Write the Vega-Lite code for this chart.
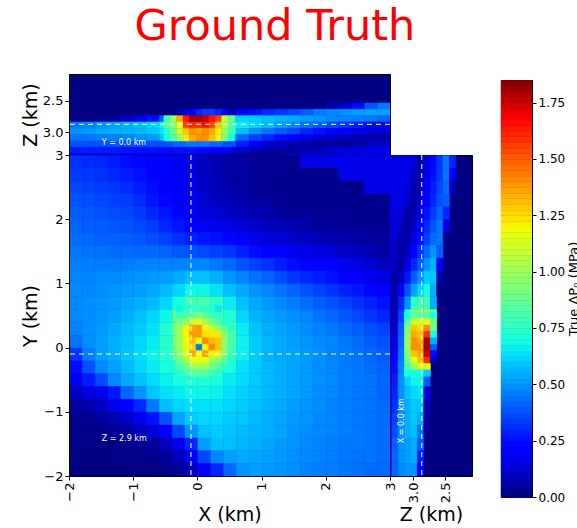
{"$schema":"https://vega.github.io/schema/vega-lite/v6.json","padding":{"left":20,"top":5,"right":0,"bottom":0},"title":{"text":"Ground Truth","color":"#ff0000","fontSize":43,"font":"DejaVu Sans","fontWeight":"normal","anchor":"middle","dx":-26,"offset":25},"config":{"view":{"fill":"#000080","stroke":"#000"},"axis":{"labelFont":"DejaVu Sans","titleFont":"DejaVu Sans","labelFontSize":13,"titleFontSize":19,"titleFontWeight":"normal","labelColor":"#000","titleColor":"#000","tickColor":"#000","domainColor":"#000","grid":false,"tickSize":4,"labelPadding":2}},"datasets":{"m":[
{"x":-1.9,"y":2.9,"v":0.32},{"x":-1.7,"y":2.9,"v":0.31},{"x":-1.5,"y":2.9,"v":0.3},{"x":-1.3,"y":2.9,"v":0.28},{"x":-1.1,"y":2.9,"v":0.25},{"x":-0.9,"y":2.9,"v":0.24},{"x":-0.7,"y":2.9,"v":0.22},{"x":-0.5,"y":2.9,"v":0.2},{"x":-0.3,"y":2.9,"v":0.18},{"x":-0.1,"y":2.9,"v":0.15},{"x":0.1,"y":2.9,"v":0.1},{"x":0.3,"y":2.9,"v":0.08},{"x":0.5,"y":2.9,"v":0.06},{"x":0.7,"y":2.9,"v":0.05},{"x":0.9,"y":2.9,"v":0.04},{"x":1.1,"y":2.9,"v":0.03},{"x":1.3,"y":2.9,"v":0.03},{"x":1.5,"y":2.9,"v":0.03},{"x":1.7,"y":2.9,"v":0.17},{"x":1.9,"y":2.9,"v":0.17},{"x":2.1,"y":2.9,"v":0.17},{"x":2.3,"y":2.9,"v":0.17},{"x":2.5,"y":2.9,"v":0.17},{"x":2.7,"y":2.9,"v":0.17},{"x":2.9,"y":2.9,"v":0.17},
{"x":-1.9,"y":2.7,"v":0.34},{"x":-1.7,"y":2.7,"v":0.33},{"x":-1.5,"y":2.7,"v":0.32},{"x":-1.3,"y":2.7,"v":0.3},{"x":-1.1,"y":2.7,"v":0.28},{"x":-0.9,"y":2.7,"v":0.26},{"x":-0.7,"y":2.7,"v":0.23},{"x":-0.5,"y":2.7,"v":0.21},{"x":-0.3,"y":2.7,"v":0.19},{"x":-0.1,"y":2.7,"v":0.15},{"x":0.1,"y":2.7,"v":0.11},{"x":0.3,"y":2.7,"v":0.08},{"x":0.5,"y":2.7,"v":0.06},{"x":0.7,"y":2.7,"v":0.05},{"x":0.9,"y":2.7,"v":0.04},{"x":1.1,"y":2.7,"v":0.03},{"x":1.3,"y":2.7,"v":0.03},{"x":1.5,"y":2.7,"v":0.02},{"x":1.7,"y":2.7,"v":0.02},{"x":1.9,"y":2.7,"v":0.02},{"x":2.1,"y":2.7,"v":0.02},{"x":2.3,"y":2.7,"v":0.17},{"x":2.5,"y":2.7,"v":0.17},{"x":2.7,"y":2.7,"v":0.17},{"x":2.9,"y":2.7,"v":0.17},
{"x":-1.9,"y":2.5,"v":0.36},{"x":-1.7,"y":2.5,"v":0.35},{"x":-1.5,"y":2.5,"v":0.34},{"x":-1.3,"y":2.5,"v":0.33},{"x":-1.1,"y":2.5,"v":0.31},{"x":-0.9,"y":2.5,"v":0.28},{"x":-0.7,"y":2.5,"v":0.25},{"x":-0.5,"y":2.5,"v":0.22},{"x":-0.3,"y":2.5,"v":0.2},{"x":-0.1,"y":2.5,"v":0.16},{"x":0.1,"y":2.5,"v":0.12},{"x":0.3,"y":2.5,"v":0.09},{"x":0.5,"y":2.5,"v":0.07},{"x":0.7,"y":2.5,"v":0.05},{"x":0.9,"y":2.5,"v":0.04},{"x":1.1,"y":2.5,"v":0.03},{"x":1.3,"y":2.5,"v":0.02},{"x":1.5,"y":2.5,"v":0.02},{"x":1.7,"y":2.5,"v":0.02},{"x":1.9,"y":2.5,"v":0.02},{"x":2.1,"y":2.5,"v":0.02},{"x":2.3,"y":2.5,"v":0.02},{"x":2.5,"y":2.5,"v":0.02},{"x":2.7,"y":2.5,"v":0.17},{"x":2.9,"y":2.5,"v":0.17},
{"x":-1.9,"y":2.3,"v":0.38},{"x":-1.7,"y":2.3,"v":0.37},{"x":-1.5,"y":2.3,"v":0.36},{"x":-1.3,"y":2.3,"v":0.35},{"x":-1.1,"y":2.3,"v":0.34},{"x":-0.9,"y":2.3,"v":0.31},{"x":-0.7,"y":2.3,"v":0.27},{"x":-0.5,"y":2.3,"v":0.24},{"x":-0.3,"y":2.3,"v":0.21},{"x":-0.1,"y":2.3,"v":0.17},{"x":0.1,"y":2.3,"v":0.13},{"x":0.3,"y":2.3,"v":0.11},{"x":0.5,"y":2.3,"v":0.09},{"x":0.7,"y":2.3,"v":0.07},{"x":0.9,"y":2.3,"v":0.05},{"x":1.1,"y":2.3,"v":0.04},{"x":1.3,"y":2.3,"v":0.03},{"x":1.5,"y":2.3,"v":0.02},{"x":1.7,"y":2.3,"v":0.02},{"x":1.9,"y":2.3,"v":0.02},{"x":2.1,"y":2.3,"v":0.02},{"x":2.3,"y":2.3,"v":0.02},{"x":2.5,"y":2.3,"v":0.02},{"x":2.7,"y":2.3,"v":0.02},{"x":2.9,"y":2.3,"v":0.03},
{"x":-1.9,"y":2.1,"v":0.4},{"x":-1.7,"y":2.1,"v":0.39},{"x":-1.5,"y":2.1,"v":0.38},{"x":-1.3,"y":2.1,"v":0.37},{"x":-1.1,"y":2.1,"v":0.36},{"x":-0.9,"y":2.1,"v":0.34},{"x":-0.7,"y":2.1,"v":0.3},{"x":-0.5,"y":2.1,"v":0.27},{"x":-0.3,"y":2.1,"v":0.24},{"x":-0.1,"y":2.1,"v":0.19},{"x":0.1,"y":2.1,"v":0.15},{"x":0.3,"y":2.1,"v":0.13},{"x":0.5,"y":2.1,"v":0.12},{"x":0.7,"y":2.1,"v":0.1},{"x":0.9,"y":2.1,"v":0.08},{"x":1.1,"y":2.1,"v":0.07},{"x":1.3,"y":2.1,"v":0.05},{"x":1.5,"y":2.1,"v":0.04},{"x":1.7,"y":2.1,"v":0.04},{"x":1.9,"y":2.1,"v":0.03},{"x":2.1,"y":2.1,"v":0.03},{"x":2.3,"y":2.1,"v":0.03},{"x":2.5,"y":2.1,"v":0.02},{"x":2.7,"y":2.1,"v":0.02},{"x":2.9,"y":2.1,"v":0.02},
{"x":-1.9,"y":1.9,"v":0.41},{"x":-1.7,"y":1.9,"v":0.4},{"x":-1.5,"y":1.9,"v":0.4},{"x":-1.3,"y":1.9,"v":0.39},{"x":-1.1,"y":1.9,"v":0.38},{"x":-0.9,"y":1.9,"v":0.36},{"x":-0.7,"y":1.9,"v":0.34},{"x":-0.5,"y":1.9,"v":0.3},{"x":-0.3,"y":1.9,"v":0.27},{"x":-0.1,"y":1.9,"v":0.23},{"x":0.1,"y":1.9,"v":0.19},{"x":0.3,"y":1.9,"v":0.17},{"x":0.5,"y":1.9,"v":0.16},{"x":0.7,"y":1.9,"v":0.14},{"x":0.9,"y":1.9,"v":0.12},{"x":1.1,"y":1.9,"v":0.1},{"x":1.3,"y":1.9,"v":0.09},{"x":1.5,"y":1.9,"v":0.08},{"x":1.7,"y":1.9,"v":0.06},{"x":1.9,"y":1.9,"v":0.05},{"x":2.1,"y":1.9,"v":0.05},{"x":2.3,"y":1.9,"v":0.04},{"x":2.5,"y":1.9,"v":0.03},{"x":2.7,"y":1.9,"v":0.03},{"x":2.9,"y":1.9,"v":0.03},
{"x":-1.9,"y":1.7,"v":0.43},{"x":-1.7,"y":1.7,"v":0.42},{"x":-1.5,"y":1.7,"v":0.41},{"x":-1.3,"y":1.7,"v":0.41},{"x":-1.1,"y":1.7,"v":0.4},{"x":-0.9,"y":1.7,"v":0.39},{"x":-0.7,"y":1.7,"v":0.37},{"x":-0.5,"y":1.7,"v":0.35},{"x":-0.3,"y":1.7,"v":0.32},{"x":-0.1,"y":1.7,"v":0.29},{"x":0.1,"y":1.7,"v":0.27},{"x":0.3,"y":1.7,"v":0.26},{"x":0.5,"y":1.7,"v":0.24},{"x":0.7,"y":1.7,"v":0.2},{"x":0.9,"y":1.7,"v":0.17},{"x":1.1,"y":1.7,"v":0.15},{"x":1.3,"y":1.7,"v":0.14},{"x":1.5,"y":1.7,"v":0.12},{"x":1.7,"y":1.7,"v":0.11},{"x":1.9,"y":1.7,"v":0.09},{"x":2.1,"y":1.7,"v":0.08},{"x":2.3,"y":1.7,"v":0.07},{"x":2.5,"y":1.7,"v":0.06},{"x":2.7,"y":1.7,"v":0.05},{"x":2.9,"y":1.7,"v":0.04},
{"x":-1.9,"y":1.5,"v":0.45},{"x":-1.7,"y":1.5,"v":0.44},{"x":-1.5,"y":1.5,"v":0.44},{"x":-1.3,"y":1.5,"v":0.43},{"x":-1.1,"y":1.5,"v":0.43},{"x":-0.9,"y":1.5,"v":0.42},{"x":-0.7,"y":1.5,"v":0.42},{"x":-0.5,"y":1.5,"v":0.41},{"x":-0.3,"y":1.5,"v":0.39},{"x":-0.1,"y":1.5,"v":0.38},{"x":0.1,"y":1.5,"v":0.36},{"x":0.3,"y":1.5,"v":0.35},{"x":0.5,"y":1.5,"v":0.33},{"x":0.7,"y":1.5,"v":0.29},{"x":0.9,"y":1.5,"v":0.25},{"x":1.1,"y":1.5,"v":0.22},{"x":1.3,"y":1.5,"v":0.2},{"x":1.5,"y":1.5,"v":0.18},{"x":1.7,"y":1.5,"v":0.16},{"x":1.9,"y":1.5,"v":0.15},{"x":2.1,"y":1.5,"v":0.13},{"x":2.3,"y":1.5,"v":0.11},{"x":2.5,"y":1.5,"v":0.1},{"x":2.7,"y":1.5,"v":0.08},{"x":2.9,"y":1.5,"v":0.06},
{"x":-1.9,"y":1.3,"v":0.46},{"x":-1.7,"y":1.3,"v":0.46},{"x":-1.5,"y":1.3,"v":0.46},{"x":-1.3,"y":1.3,"v":0.46},{"x":-1.1,"y":1.3,"v":0.46},{"x":-0.9,"y":1.3,"v":0.47},{"x":-0.7,"y":1.3,"v":0.47},{"x":-0.5,"y":1.3,"v":0.47},{"x":-0.3,"y":1.3,"v":0.47},{"x":-0.1,"y":1.3,"v":0.47},{"x":0.1,"y":1.3,"v":0.47},{"x":0.3,"y":1.3,"v":0.45},{"x":0.5,"y":1.3,"v":0.42},{"x":0.7,"y":1.3,"v":0.38},{"x":0.9,"y":1.3,"v":0.35},{"x":1.1,"y":1.3,"v":0.32},{"x":1.3,"y":1.3,"v":0.28},{"x":1.5,"y":1.3,"v":0.25},{"x":1.7,"y":1.3,"v":0.23},{"x":1.9,"y":1.3,"v":0.21},{"x":2.1,"y":1.3,"v":0.2},{"x":2.3,"y":1.3,"v":0.17},{"x":2.5,"y":1.3,"v":0.15},{"x":2.7,"y":1.3,"v":0.13},{"x":2.9,"y":1.3,"v":0.1},
{"x":-1.9,"y":1.1,"v":0.47},{"x":-1.7,"y":1.1,"v":0.47},{"x":-1.5,"y":1.1,"v":0.48},{"x":-1.3,"y":1.1,"v":0.48},{"x":-1.1,"y":1.1,"v":0.49},{"x":-0.9,"y":1.1,"v":0.5},{"x":-0.7,"y":1.1,"v":0.51},{"x":-0.5,"y":1.1,"v":0.52},{"x":-0.3,"y":1.1,"v":0.54},{"x":-0.1,"y":1.1,"v":0.58},{"x":0.1,"y":1.1,"v":0.58},{"x":0.3,"y":1.1,"v":0.55},{"x":0.5,"y":1.1,"v":0.5},{"x":0.7,"y":1.1,"v":0.47},{"x":0.9,"y":1.1,"v":0.44},{"x":1.1,"y":1.1,"v":0.41},{"x":1.3,"y":1.1,"v":0.37},{"x":1.5,"y":1.1,"v":0.33},{"x":1.7,"y":1.1,"v":0.3},{"x":1.9,"y":1.1,"v":0.28},{"x":2.1,"y":1.1,"v":0.26},{"x":2.3,"y":1.1,"v":0.23},{"x":2.5,"y":1.1,"v":0.21},{"x":2.7,"y":1.1,"v":0.18},{"x":2.9,"y":1.1,"v":0.15},
{"x":-1.9,"y":0.9,"v":0.48},{"x":-1.7,"y":0.9,"v":0.48},{"x":-1.5,"y":0.9,"v":0.49},{"x":-1.3,"y":0.9,"v":0.5},{"x":-1.1,"y":0.9,"v":0.51},{"x":-0.9,"y":0.9,"v":0.52},{"x":-0.7,"y":0.9,"v":0.54},{"x":-0.5,"y":0.9,"v":0.57},{"x":-0.3,"y":0.9,"v":0.62},{"x":-0.1,"y":0.9,"v":0.68},{"x":0.1,"y":0.9,"v":0.68},{"x":0.3,"y":0.9,"v":0.64},{"x":0.5,"y":0.9,"v":0.58},{"x":0.7,"y":0.9,"v":0.54},{"x":0.9,"y":0.9,"v":0.5},{"x":1.1,"y":0.9,"v":0.47},{"x":1.3,"y":0.9,"v":0.44},{"x":1.5,"y":0.9,"v":0.41},{"x":1.7,"y":0.9,"v":0.38},{"x":1.9,"y":0.9,"v":0.35},{"x":2.1,"y":0.9,"v":0.32},{"x":2.3,"y":0.9,"v":0.29},{"x":2.5,"y":0.9,"v":0.27},{"x":2.7,"y":0.9,"v":0.24},{"x":2.9,"y":0.9,"v":0.2},
{"x":-1.9,"y":0.7,"v":0.48},{"x":-1.7,"y":0.7,"v":0.49},{"x":-1.5,"y":0.7,"v":0.5},{"x":-1.3,"y":0.7,"v":0.51},{"x":-1.1,"y":0.7,"v":0.53},{"x":-0.9,"y":0.7,"v":0.55},{"x":-0.7,"y":0.7,"v":0.57},{"x":-0.5,"y":0.7,"v":0.62},{"x":-0.3,"y":0.7,"v":0.7},{"x":-0.1,"y":0.7,"v":0.8},{"x":0.1,"y":0.7,"v":0.82},{"x":0.3,"y":0.7,"v":0.75},{"x":0.5,"y":0.7,"v":0.66},{"x":0.7,"y":0.7,"v":0.58},{"x":0.9,"y":0.7,"v":0.54},{"x":1.1,"y":0.7,"v":0.51},{"x":1.3,"y":0.7,"v":0.48},{"x":1.5,"y":0.7,"v":0.46},{"x":1.7,"y":0.7,"v":0.43},{"x":1.9,"y":0.7,"v":0.4},{"x":2.1,"y":0.7,"v":0.38},{"x":2.3,"y":0.7,"v":0.35},{"x":2.5,"y":0.7,"v":0.32},{"x":2.7,"y":0.7,"v":0.29},{"x":2.9,"y":0.7,"v":0.26},
{"x":-1.9,"y":0.5,"v":0.48},{"x":-1.7,"y":0.5,"v":0.49},{"x":-1.5,"y":0.5,"v":0.5},{"x":-1.3,"y":0.5,"v":0.52},{"x":-1.1,"y":0.5,"v":0.55},{"x":-0.9,"y":0.5,"v":0.58},{"x":-0.7,"y":0.5,"v":0.62},{"x":-0.5,"y":0.5,"v":0.68},{"x":-0.3,"y":0.5,"v":0.85},{"x":-0.1,"y":0.5,"v":1.0},{"x":0.1,"y":0.5,"v":1.0},{"x":0.3,"y":0.5,"v":0.85},{"x":0.5,"y":0.5,"v":0.72},{"x":0.7,"y":0.5,"v":0.62},{"x":0.9,"y":0.5,"v":0.56},{"x":1.1,"y":0.5,"v":0.53},{"x":1.3,"y":0.5,"v":0.51},{"x":1.5,"y":0.5,"v":0.49},{"x":1.7,"y":0.5,"v":0.47},{"x":1.9,"y":0.5,"v":0.44},{"x":2.1,"y":0.5,"v":0.42},{"x":2.3,"y":0.5,"v":0.39},{"x":2.5,"y":0.5,"v":0.36},{"x":2.7,"y":0.5,"v":0.33},{"x":2.9,"y":0.5,"v":0.3},
{"x":-1.9,"y":0.3,"v":0.47},{"x":-1.7,"y":0.3,"v":0.49},{"x":-1.5,"y":0.3,"v":0.51},{"x":-1.3,"y":0.3,"v":0.54},{"x":-1.1,"y":0.3,"v":0.57},{"x":-0.9,"y":0.3,"v":0.6},{"x":-0.7,"y":0.3,"v":0.64},{"x":-0.5,"y":0.3,"v":0.72},{"x":-0.3,"y":0.3,"v":0.9},{"x":-0.1,"y":0.3,"v":1.2},{"x":0.1,"y":0.3,"v":1.2},{"x":0.3,"y":0.3,"v":1.2},{"x":0.5,"y":0.3,"v":0.82},{"x":0.7,"y":0.3,"v":0.66},{"x":0.9,"y":0.3,"v":0.59},{"x":1.1,"y":0.3,"v":0.55},{"x":1.3,"y":0.3,"v":0.53},{"x":1.5,"y":0.3,"v":0.51},{"x":1.7,"y":0.3,"v":0.49},{"x":1.9,"y":0.3,"v":0.47},{"x":2.1,"y":0.3,"v":0.45},{"x":2.3,"y":0.3,"v":0.42},{"x":2.5,"y":0.3,"v":0.4},{"x":2.7,"y":0.3,"v":0.37},{"x":2.9,"y":0.3,"v":0.35},
{"x":-1.9,"y":0.1,"v":0.44},{"x":-1.7,"y":0.1,"v":0.49},{"x":-1.5,"y":0.1,"v":0.52},{"x":-1.3,"y":0.1,"v":0.55},{"x":-1.1,"y":0.1,"v":0.58},{"x":-0.9,"y":0.1,"v":0.62},{"x":-0.7,"y":0.1,"v":0.66},{"x":-0.5,"y":0.1,"v":0.74},{"x":-0.3,"y":0.1,"v":0.9},{"x":-0.1,"y":0.1,"v":1.2},{"x":0.1,"y":0.1,"v":1.2},{"x":0.3,"y":0.1,"v":1.2},{"x":0.5,"y":0.1,"v":0.85},{"x":0.7,"y":0.1,"v":0.67},{"x":0.9,"y":0.1,"v":0.6},{"x":1.1,"y":0.1,"v":0.56},{"x":1.3,"y":0.1,"v":0.54},{"x":1.5,"y":0.1,"v":0.52},{"x":1.7,"y":0.1,"v":0.5},{"x":1.9,"y":0.1,"v":0.48},{"x":2.1,"y":0.1,"v":0.47},{"x":2.3,"y":0.1,"v":0.45},{"x":2.5,"y":0.1,"v":0.43},{"x":2.7,"y":0.1,"v":0.4},{"x":2.9,"y":0.1,"v":0.38},
{"x":-1.9,"y":-0.1,"v":0.33},{"x":-1.7,"y":-0.1,"v":0.46},{"x":-1.5,"y":-0.1,"v":0.52},{"x":-1.3,"y":-0.1,"v":0.55},{"x":-1.1,"y":-0.1,"v":0.59},{"x":-0.9,"y":-0.1,"v":0.63},{"x":-0.7,"y":-0.1,"v":0.67},{"x":-0.5,"y":-0.1,"v":0.74},{"x":-0.3,"y":-0.1,"v":0.88},{"x":-0.1,"y":-0.1,"v":1.1},{"x":0.1,"y":-0.1,"v":1.1},{"x":0.3,"y":-0.1,"v":1.1},{"x":0.5,"y":-0.1,"v":0.8},{"x":0.7,"y":-0.1,"v":0.67},{"x":0.9,"y":-0.1,"v":0.6},{"x":1.1,"y":-0.1,"v":0.56},{"x":1.3,"y":-0.1,"v":0.54},{"x":1.5,"y":-0.1,"v":0.53},{"x":1.7,"y":-0.1,"v":0.51},{"x":1.9,"y":-0.1,"v":0.49},{"x":2.1,"y":-0.1,"v":0.47},{"x":2.3,"y":-0.1,"v":0.46},{"x":2.5,"y":-0.1,"v":0.44},{"x":2.7,"y":-0.1,"v":0.42},{"x":2.9,"y":-0.1,"v":0.4},
{"x":-1.9,"y":-0.3,"v":0.25},{"x":-1.7,"y":-0.3,"v":0.38},{"x":-1.5,"y":-0.3,"v":0.48},{"x":-1.3,"y":-0.3,"v":0.52},{"x":-1.1,"y":-0.3,"v":0.57},{"x":-0.9,"y":-0.3,"v":0.62},{"x":-0.7,"y":-0.3,"v":0.66},{"x":-0.5,"y":-0.3,"v":0.7},{"x":-0.3,"y":-0.3,"v":0.74},{"x":-0.1,"y":-0.3,"v":0.78},{"x":0.1,"y":-0.3,"v":0.78},{"x":0.3,"y":-0.3,"v":0.76},{"x":0.5,"y":-0.3,"v":0.7},{"x":0.7,"y":-0.3,"v":0.64},{"x":0.9,"y":-0.3,"v":0.6},{"x":1.1,"y":-0.3,"v":0.57},{"x":1.3,"y":-0.3,"v":0.55},{"x":1.5,"y":-0.3,"v":0.53},{"x":1.7,"y":-0.3,"v":0.51},{"x":1.9,"y":-0.3,"v":0.49},{"x":2.1,"y":-0.3,"v":0.48},{"x":2.3,"y":-0.3,"v":0.46},{"x":2.5,"y":-0.3,"v":0.45},{"x":2.7,"y":-0.3,"v":0.43},{"x":2.9,"y":-0.3,"v":0.41},
{"x":-1.9,"y":-0.5,"v":0.18},{"x":-1.7,"y":-0.5,"v":0.28},{"x":-1.5,"y":-0.5,"v":0.36},{"x":-1.3,"y":-0.5,"v":0.48},{"x":-1.1,"y":-0.5,"v":0.54},{"x":-0.9,"y":-0.5,"v":0.58},{"x":-0.7,"y":-0.5,"v":0.63},{"x":-0.5,"y":-0.5,"v":0.67},{"x":-0.3,"y":-0.5,"v":0.7},{"x":-0.1,"y":-0.5,"v":0.72},{"x":0.1,"y":-0.5,"v":0.72},{"x":0.3,"y":-0.5,"v":0.7},{"x":0.5,"y":-0.5,"v":0.66},{"x":0.7,"y":-0.5,"v":0.63},{"x":0.9,"y":-0.5,"v":0.6},{"x":1.1,"y":-0.5,"v":0.57},{"x":1.3,"y":-0.5,"v":0.55},{"x":1.5,"y":-0.5,"v":0.53},{"x":1.7,"y":-0.5,"v":0.51},{"x":1.9,"y":-0.5,"v":0.49},{"x":2.1,"y":-0.5,"v":0.48},{"x":2.3,"y":-0.5,"v":0.46},{"x":2.5,"y":-0.5,"v":0.45},{"x":2.7,"y":-0.5,"v":0.44},{"x":2.9,"y":-0.5,"v":0.42},
{"x":-1.9,"y":-0.7,"v":0.1},{"x":-1.7,"y":-0.7,"v":0.16},{"x":-1.5,"y":-0.7,"v":0.18},{"x":-1.3,"y":-0.7,"v":0.27},{"x":-1.1,"y":-0.7,"v":0.42},{"x":-0.9,"y":-0.7,"v":0.5},{"x":-0.7,"y":-0.7,"v":0.59},{"x":-0.5,"y":-0.7,"v":0.64},{"x":-0.3,"y":-0.7,"v":0.66},{"x":-0.1,"y":-0.7,"v":0.68},{"x":0.1,"y":-0.7,"v":0.68},{"x":0.3,"y":-0.7,"v":0.67},{"x":0.5,"y":-0.7,"v":0.64},{"x":0.7,"y":-0.7,"v":0.61},{"x":0.9,"y":-0.7,"v":0.59},{"x":1.1,"y":-0.7,"v":0.57},{"x":1.3,"y":-0.7,"v":0.55},{"x":1.5,"y":-0.7,"v":0.53},{"x":1.7,"y":-0.7,"v":0.51},{"x":1.9,"y":-0.7,"v":0.49},{"x":2.1,"y":-0.7,"v":0.48},{"x":2.3,"y":-0.7,"v":0.46},{"x":2.5,"y":-0.7,"v":0.45},{"x":2.7,"y":-0.7,"v":0.44},{"x":2.9,"y":-0.7,"v":0.42},
{"x":-1.9,"y":-0.9,"v":0.05},{"x":-1.7,"y":-0.9,"v":0.07},{"x":-1.5,"y":-0.9,"v":0.1},{"x":-1.3,"y":-0.9,"v":0.17},{"x":-1.1,"y":-0.9,"v":0.2},{"x":-0.9,"y":-0.9,"v":0.3},{"x":-0.7,"y":-0.9,"v":0.45},{"x":-0.5,"y":-0.9,"v":0.58},{"x":-0.3,"y":-0.9,"v":0.62},{"x":-0.1,"y":-0.9,"v":0.64},{"x":0.1,"y":-0.9,"v":0.64},{"x":0.3,"y":-0.9,"v":0.64},{"x":0.5,"y":-0.9,"v":0.62},{"x":0.7,"y":-0.9,"v":0.6},{"x":0.9,"y":-0.9,"v":0.58},{"x":1.1,"y":-0.9,"v":0.56},{"x":1.3,"y":-0.9,"v":0.54},{"x":1.5,"y":-0.9,"v":0.52},{"x":1.7,"y":-0.9,"v":0.5},{"x":1.9,"y":-0.9,"v":0.49},{"x":2.1,"y":-0.9,"v":0.47},{"x":2.3,"y":-0.9,"v":0.46},{"x":2.5,"y":-0.9,"v":0.45},{"x":2.7,"y":-0.9,"v":0.44},{"x":2.9,"y":-0.9,"v":0.43},
{"x":-1.9,"y":-1.1,"v":0.02},{"x":-1.7,"y":-1.1,"v":0.03},{"x":-1.5,"y":-1.1,"v":0.05},{"x":-1.3,"y":-1.1,"v":0.07},{"x":-1.1,"y":-1.1,"v":0.12},{"x":-0.9,"y":-1.1,"v":0.18},{"x":-0.7,"y":-1.1,"v":0.26},{"x":-0.5,"y":-1.1,"v":0.38},{"x":-0.3,"y":-1.1,"v":0.53},{"x":-0.1,"y":-1.1,"v":0.6},{"x":0.1,"y":-1.1,"v":0.62},{"x":0.3,"y":-1.1,"v":0.62},{"x":0.5,"y":-1.1,"v":0.6},{"x":0.7,"y":-1.1,"v":0.59},{"x":0.9,"y":-1.1,"v":0.57},{"x":1.1,"y":-1.1,"v":0.55},{"x":1.3,"y":-1.1,"v":0.53},{"x":1.5,"y":-1.1,"v":0.51},{"x":1.7,"y":-1.1,"v":0.5},{"x":1.9,"y":-1.1,"v":0.48},{"x":2.1,"y":-1.1,"v":0.47},{"x":2.3,"y":-1.1,"v":0.46},{"x":2.5,"y":-1.1,"v":0.45},{"x":2.7,"y":-1.1,"v":0.44},{"x":2.9,"y":-1.1,"v":0.43},
{"x":-1.9,"y":-1.3,"v":0.01},{"x":-1.7,"y":-1.3,"v":0.01},{"x":-1.5,"y":-1.3,"v":0.02},{"x":-1.3,"y":-1.3,"v":0.03},{"x":-1.1,"y":-1.3,"v":0.05},{"x":-0.9,"y":-1.3,"v":0.09},{"x":-0.7,"y":-1.3,"v":0.14},{"x":-0.5,"y":-1.3,"v":0.22},{"x":-0.3,"y":-1.3,"v":0.36},{"x":-0.1,"y":-1.3,"v":0.5},{"x":0.1,"y":-1.3,"v":0.58},{"x":0.3,"y":-1.3,"v":0.6},{"x":0.5,"y":-1.3,"v":0.59},{"x":0.7,"y":-1.3,"v":0.57},{"x":0.9,"y":-1.3,"v":0.56},{"x":1.1,"y":-1.3,"v":0.55},{"x":1.3,"y":-1.3,"v":0.53},{"x":1.5,"y":-1.3,"v":0.5},{"x":1.7,"y":-1.3,"v":0.49},{"x":1.9,"y":-1.3,"v":0.48},{"x":2.1,"y":-1.3,"v":0.47},{"x":2.3,"y":-1.3,"v":0.46},{"x":2.5,"y":-1.3,"v":0.45},{"x":2.7,"y":-1.3,"v":0.44},{"x":2.9,"y":-1.3,"v":0.43},
{"x":-1.9,"y":-1.5,"v":0.01},{"x":-1.7,"y":-1.5,"v":0.01},{"x":-1.5,"y":-1.5,"v":0.01},{"x":-1.3,"y":-1.5,"v":0.01},{"x":-1.1,"y":-1.5,"v":0.02},{"x":-0.9,"y":-1.5,"v":0.03},{"x":-0.7,"y":-1.5,"v":0.05},{"x":-0.5,"y":-1.5,"v":0.1},{"x":-0.3,"y":-1.5,"v":0.18},{"x":-0.1,"y":-1.5,"v":0.3},{"x":0.1,"y":-1.5,"v":0.52},{"x":0.3,"y":-1.5,"v":0.58},{"x":0.5,"y":-1.5,"v":0.58},{"x":0.7,"y":-1.5,"v":0.56},{"x":0.9,"y":-1.5,"v":0.55},{"x":1.1,"y":-1.5,"v":0.53},{"x":1.3,"y":-1.5,"v":0.51},{"x":1.5,"y":-1.5,"v":0.5},{"x":1.7,"y":-1.5,"v":0.48},{"x":1.9,"y":-1.5,"v":0.47},{"x":2.1,"y":-1.5,"v":0.46},{"x":2.3,"y":-1.5,"v":0.45},{"x":2.5,"y":-1.5,"v":0.45},{"x":2.7,"y":-1.5,"v":0.44},{"x":2.9,"y":-1.5,"v":0.43},
{"x":-1.9,"y":-1.7,"v":0},{"x":-1.7,"y":-1.7,"v":0},{"x":-1.5,"y":-1.7,"v":0},{"x":-1.3,"y":-1.7,"v":0.01},{"x":-1.1,"y":-1.7,"v":0.01},{"x":-0.9,"y":-1.7,"v":0.01},{"x":-0.7,"y":-1.7,"v":0.02},{"x":-0.5,"y":-1.7,"v":0.04},{"x":-0.3,"y":-1.7,"v":0.09},{"x":-0.1,"y":-1.7,"v":0.18},{"x":0.1,"y":-1.7,"v":0.36},{"x":0.3,"y":-1.7,"v":0.47},{"x":0.5,"y":-1.7,"v":0.52},{"x":0.7,"y":-1.7,"v":0.54},{"x":0.9,"y":-1.7,"v":0.53},{"x":1.1,"y":-1.7,"v":0.52},{"x":1.3,"y":-1.7,"v":0.51},{"x":1.5,"y":-1.7,"v":0.49},{"x":1.7,"y":-1.7,"v":0.48},{"x":1.9,"y":-1.7,"v":0.47},{"x":2.1,"y":-1.7,"v":0.46},{"x":2.3,"y":-1.7,"v":0.45},{"x":2.5,"y":-1.7,"v":0.44},{"x":2.7,"y":-1.7,"v":0.44},{"x":2.9,"y":-1.7,"v":0.43},
{"x":-1.9,"y":-1.9,"v":0},{"x":-1.7,"y":-1.9,"v":0},{"x":-1.5,"y":-1.9,"v":0},{"x":-1.3,"y":-1.9,"v":0},{"x":-1.1,"y":-1.9,"v":0},{"x":-0.9,"y":-1.9,"v":0.01},{"x":-0.7,"y":-1.9,"v":0.01},{"x":-0.5,"y":-1.9,"v":0.02},{"x":-0.3,"y":-1.9,"v":0.04},{"x":-0.1,"y":-1.9,"v":0.09},{"x":0.1,"y":-1.9,"v":0.22},{"x":0.3,"y":-1.9,"v":0.3},{"x":0.5,"y":-1.9,"v":0.42},{"x":0.7,"y":-1.9,"v":0.5},{"x":0.9,"y":-1.9,"v":0.52},{"x":1.1,"y":-1.9,"v":0.51},{"x":1.3,"y":-1.9,"v":0.5},{"x":1.5,"y":-1.9,"v":0.49},{"x":1.7,"y":-1.9,"v":0.47},{"x":1.9,"y":-1.9,"v":0.46},{"x":2.1,"y":-1.9,"v":0.46},{"x":2.3,"y":-1.9,"v":0.45},{"x":2.5,"y":-1.9,"v":0.44},{"x":2.7,"y":-1.9,"v":0.43},{"x":2.9,"y":-1.9,"v":0.43}
],"f":[
{"x":-0.28,"y":0.61,"v":0.68},{"x":-0.18,"y":0.61,"v":0.72},{"x":-0.08,"y":0.61,"v":0.75},{"x":0.02,"y":0.61,"v":0.75},{"x":0.12,"y":0.61,"v":0.75},{"x":0.22,"y":0.61,"v":0.72},{"x":0.32,"y":0.61,"v":0.66},
{"x":-0.28,"y":0.51,"v":0.78},{"x":-0.18,"y":0.51,"v":0.82},{"x":-0.08,"y":0.51,"v":0.85},{"x":0.02,"y":0.51,"v":0.9},{"x":0.12,"y":0.51,"v":0.87},{"x":0.22,"y":0.51,"v":0.8},{"x":0.32,"y":0.51,"v":0.75},
{"x":-0.28,"y":0.41,"v":0.9},{"x":-0.18,"y":0.41,"v":0.95},{"x":-0.08,"y":0.41,"v":1.1},{"x":0.02,"y":0.41,"v":1.15},{"x":0.12,"y":0.41,"v":1.0},{"x":0.22,"y":0.41,"v":0.9},{"x":0.32,"y":0.41,"v":0.82},{"x":0.42,"y":0.41,"v":0.72},
{"x":-0.28,"y":0.31,"v":1.0},{"x":-0.18,"y":0.31,"v":1.2},{"x":-0.08,"y":0.31,"v":1.35},{"x":0.02,"y":0.31,"v":1.38},{"x":0.12,"y":0.31,"v":1.2},{"x":0.22,"y":0.31,"v":1.1},{"x":0.32,"y":0.31,"v":0.95},{"x":0.42,"y":0.31,"v":0.85},{"x":0.52,"y":0.31,"v":0.72},
{"x":-0.28,"y":0.21,"v":1.0},{"x":-0.18,"y":0.21,"v":1.2},{"x":-0.08,"y":0.21,"v":1.38},{"x":0.02,"y":0.21,"v":1.38},{"x":0.12,"y":0.21,"v":1.25},{"x":0.22,"y":0.21,"v":1.23},{"x":0.32,"y":0.21,"v":1.23},{"x":0.42,"y":0.21,"v":0.95},{"x":0.52,"y":0.21,"v":0.8},
{"x":-0.28,"y":0.11,"v":1.0},{"x":-0.18,"y":0.11,"v":1.18},{"x":-0.08,"y":0.11,"v":1.3},{"x":0.02,"y":0.11,"v":1.17},{"x":0.12,"y":0.11,"v":1.42},{"x":0.22,"y":0.11,"v":1.32},{"x":0.32,"y":0.11,"v":1.3},{"x":0.42,"y":0.11,"v":0.97},{"x":0.52,"y":0.11,"v":0.8},
{"x":-0.28,"y":0.01,"v":1.0},{"x":-0.18,"y":0.01,"v":1.15},{"x":-0.08,"y":0.01,"v":1.28},{"x":0.02,"y":0.01,"v":0.45},{"x":0.12,"y":0.01,"v":1.2},{"x":0.22,"y":0.01,"v":1.42},{"x":0.32,"y":0.01,"v":1.3},{"x":0.42,"y":0.01,"v":0.95},{"x":0.52,"y":0.01,"v":0.8},
{"x":-0.28,"y":-0.09,"v":0.95},{"x":-0.18,"y":-0.09,"v":1.15},{"x":-0.08,"y":-0.09,"v":1.35},{"x":0.02,"y":-0.09,"v":1.2},{"x":0.12,"y":-0.09,"v":1.38},{"x":0.22,"y":-0.09,"v":1.22},{"x":0.32,"y":-0.09,"v":1.22},{"x":0.42,"y":-0.09,"v":0.93},{"x":0.52,"y":-0.09,"v":0.78},
{"x":-0.28,"y":-0.19,"v":0.9},{"x":-0.18,"y":-0.19,"v":1.02},{"x":-0.08,"y":-0.19,"v":1.18},{"x":0.02,"y":-0.19,"v":1.18},{"x":0.12,"y":-0.19,"v":1.18},{"x":0.22,"y":-0.19,"v":1.02},{"x":0.32,"y":-0.19,"v":0.95},{"x":0.42,"y":-0.19,"v":0.85},{"x":0.52,"y":-0.19,"v":0.72},
{"x":-0.28,"y":-0.29,"v":0.82},{"x":-0.18,"y":-0.29,"v":0.9},{"x":-0.08,"y":-0.29,"v":1.02},{"x":0.02,"y":-0.29,"v":1.02},{"x":0.12,"y":-0.29,"v":1.0},{"x":0.22,"y":-0.29,"v":0.92},{"x":0.32,"y":-0.29,"v":0.85},{"x":0.42,"y":-0.29,"v":0.76},
{"x":-0.28,"y":-0.39,"v":0.75},{"x":-0.18,"y":-0.39,"v":0.8},{"x":-0.08,"y":-0.39,"v":0.85},{"x":0.02,"y":-0.39,"v":0.85},{"x":0.12,"y":-0.39,"v":0.85},{"x":0.22,"y":-0.39,"v":0.8},{"x":0.32,"y":-0.39,"v":0.75}
],"t":[
{"x":1.9,"z":2.58,"v":0.02},{"x":2.1,"z":2.58,"v":0.06},{"x":2.3,"z":2.58,"v":0.13},{"x":2.5,"z":2.58,"v":0.25},{"x":2.7,"z":2.58,"v":0.38},{"x":2.9,"z":2.58,"v":0.45},
{"x":0.5,"z":2.68,"v":0.1},{"x":0.7,"z":2.68,"v":0.2},{"x":0.9,"z":2.68,"v":0.25},{"x":1.1,"z":2.68,"v":0.3},{"x":1.3,"z":2.68,"v":0.33},{"x":1.5,"z":2.68,"v":0.36},{"x":1.7,"z":2.68,"v":0.4},{"x":1.9,"z":2.68,"v":0.45},{"x":2.1,"z":2.68,"v":0.48},{"x":2.3,"z":2.68,"v":0.5},{"x":2.5,"z":2.68,"v":0.52},{"x":2.7,"z":2.68,"v":0.53},{"x":2.9,"z":2.68,"v":0.53},
{"x":-1.9,"z":2.78,"v":0.02},{"x":-1.7,"z":2.78,"v":0.02},{"x":-1.5,"z":2.78,"v":0.03},{"x":-1.3,"z":2.78,"v":0.05},{"x":-1.1,"z":2.78,"v":0.1},{"x":-0.9,"z":2.78,"v":0.17},{"x":-0.7,"z":2.78,"v":0.25},{"x":-0.5,"z":2.78,"v":0.4},{"x":0.5,"z":2.78,"v":0.65},{"x":0.7,"z":2.78,"v":0.62},{"x":0.9,"z":2.78,"v":0.6},{"x":1.1,"z":2.78,"v":0.58},{"x":1.3,"z":2.78,"v":0.56},{"x":1.5,"z":2.78,"v":0.55},{"x":1.7,"z":2.78,"v":0.52},{"x":1.9,"z":2.78,"v":0.5},{"x":2.1,"z":2.78,"v":0.48},{"x":2.3,"z":2.78,"v":0.47},{"x":2.5,"z":2.78,"v":0.46},{"x":2.7,"z":2.78,"v":0.45},{"x":2.9,"z":2.78,"v":0.42},
{"x":-1.9,"z":2.88,"v":0.45},{"x":-1.7,"z":2.88,"v":0.47},{"x":-1.5,"z":2.88,"v":0.5},{"x":-1.3,"z":2.88,"v":0.52},{"x":-1.1,"z":2.88,"v":0.55},{"x":-0.9,"z":2.88,"v":0.58},{"x":-0.7,"z":2.88,"v":0.62},{"x":-0.5,"z":2.88,"v":0.68},{"x":0.5,"z":2.88,"v":0.72},{"x":0.7,"z":2.88,"v":0.66},{"x":0.9,"z":2.88,"v":0.62},{"x":1.1,"z":2.88,"v":0.58},{"x":1.3,"z":2.88,"v":0.52},{"x":1.5,"z":2.88,"v":0.48},{"x":1.7,"z":2.88,"v":0.44},{"x":1.9,"z":2.88,"v":0.4},{"x":2.1,"z":2.88,"v":0.36},{"x":2.3,"z":2.88,"v":0.32},{"x":2.5,"z":2.88,"v":0.28},{"x":2.7,"z":2.88,"v":0.25},{"x":2.9,"z":2.88,"v":0.22},
{"x":-1.9,"z":2.98,"v":0.5},{"x":-1.7,"z":2.98,"v":0.52},{"x":-1.5,"z":2.98,"v":0.54},{"x":-1.3,"z":2.98,"v":0.55},{"x":-1.1,"z":2.98,"v":0.56},{"x":-0.9,"z":2.98,"v":0.57},{"x":-0.7,"z":2.98,"v":0.6},{"x":-0.5,"z":2.98,"v":0.65},{"x":0.5,"z":2.98,"v":0.68},{"x":0.7,"z":2.98,"v":0.58},{"x":0.9,"z":2.98,"v":0.5},{"x":1.1,"z":2.98,"v":0.45},{"x":1.3,"z":2.98,"v":0.4},{"x":1.5,"z":2.98,"v":0.36},{"x":1.7,"z":2.98,"v":0.3},{"x":1.9,"z":2.98,"v":0.26},{"x":2.1,"z":2.98,"v":0.22},{"x":2.3,"z":2.98,"v":0.2},{"x":2.5,"z":2.98,"v":0.18},{"x":2.7,"z":2.98,"v":0.16},{"x":2.9,"z":2.98,"v":0.15},
{"x":-1.9,"z":3.08,"v":0.45},{"x":-1.7,"z":3.08,"v":0.45},{"x":-1.5,"z":3.08,"v":0.46},{"x":-1.3,"z":3.08,"v":0.47},{"x":-1.1,"z":3.08,"v":0.48},{"x":-0.9,"z":3.08,"v":0.5},{"x":-0.7,"z":3.08,"v":0.52},{"x":-0.5,"z":3.08,"v":0.6},{"x":0.5,"z":3.08,"v":0.55},{"x":0.7,"z":3.08,"v":0.42},{"x":0.9,"z":3.08,"v":0.35},{"x":1.1,"z":3.08,"v":0.3},{"x":1.3,"z":3.08,"v":0.25},{"x":1.5,"z":3.08,"v":0.2},{"x":1.7,"z":3.08,"v":0.17},{"x":1.9,"z":3.08,"v":0.14},{"x":2.1,"z":3.08,"v":0.11},{"x":2.3,"z":3.08,"v":0.09},{"x":2.5,"z":3.08,"v":0.07},{"x":2.7,"z":3.08,"v":0.06},{"x":2.9,"z":3.08,"v":0.06},
{"x":-1.9,"z":3.18,"v":0.38},{"x":-1.7,"z":3.18,"v":0.38},{"x":-1.5,"z":3.18,"v":0.38},{"x":-1.3,"z":3.18,"v":0.38},{"x":-1.1,"z":3.18,"v":0.38},{"x":-0.9,"z":3.18,"v":0.38},{"x":-0.7,"z":3.18,"v":0.38},{"x":-0.5,"z":3.18,"v":0.38},{"x":-0.3,"z":3.18,"v":0.42},{"x":-0.1,"z":3.18,"v":0.45},{"x":0.1,"z":3.18,"v":0.45},{"x":0.3,"z":3.18,"v":0.42},{"x":0.5,"z":3.18,"v":0.38},{"x":0.7,"z":3.18,"v":0.28},{"x":0.9,"z":3.18,"v":0.2},{"x":1.1,"z":3.18,"v":0.14},{"x":1.3,"z":3.18,"v":0.1},{"x":1.5,"z":3.18,"v":0.08},{"x":1.7,"z":3.18,"v":0.06},{"x":1.9,"z":3.18,"v":0.05},{"x":2.1,"z":3.18,"v":0.05},{"x":2.3,"z":3.18,"v":0.05},{"x":2.5,"z":3.18,"v":0.07},{"x":2.7,"z":3.18,"v":0.1},{"x":2.9,"z":3.18,"v":0.12},
{"x":-1.9,"z":3.28,"v":0.28},{"x":-1.7,"z":3.28,"v":0.28},{"x":-1.5,"z":3.28,"v":0.28},{"x":-1.3,"z":3.28,"v":0.28},{"x":-1.1,"z":3.28,"v":0.27},{"x":-0.9,"z":3.28,"v":0.26},{"x":-0.7,"z":3.28,"v":0.26},{"x":-0.5,"z":3.28,"v":0.25},{"x":-0.3,"z":3.28,"v":0.26},{"x":-0.1,"z":3.28,"v":0.26},{"x":0.1,"z":3.28,"v":0.24},{"x":0.3,"z":3.28,"v":0.22},{"x":0.5,"z":3.28,"v":0.18},{"x":0.7,"z":3.28,"v":0.12},{"x":0.9,"z":3.28,"v":0.08},{"x":1.1,"z":3.28,"v":0.06},{"x":1.3,"z":3.28,"v":0.05},{"x":1.5,"z":3.28,"v":0.05},{"x":1.7,"z":3.28,"v":0.08},{"x":1.9,"z":3.28,"v":0.1},{"x":2.1,"z":3.28,"v":0.12},{"x":2.3,"z":3.28,"v":0.14},{"x":2.5,"z":3.28,"v":0.15},{"x":2.7,"z":3.28,"v":0.17},{"x":2.9,"z":3.28,"v":0.17},
{"x":-1.9,"z":3.38,"v":0.18},{"x":-1.7,"z":3.38,"v":0.18},{"x":-1.5,"z":3.38,"v":0.18},{"x":-1.3,"z":3.38,"v":0.18},{"x":-1.1,"z":3.38,"v":0.17},{"x":-0.9,"z":3.38,"v":0.16},{"x":-0.7,"z":3.38,"v":0.15},{"x":-0.5,"z":3.38,"v":0.15},{"x":-0.3,"z":3.38,"v":0.15},{"x":-0.1,"z":3.38,"v":0.15},{"x":0.1,"z":3.38,"v":0.14},{"x":0.3,"z":3.38,"v":0.12},{"x":0.5,"z":3.38,"v":0.08},{"x":0.7,"z":3.38,"v":0.05},{"x":0.9,"z":3.38,"v":0.05},{"x":1.1,"z":3.38,"v":0.06},{"x":1.3,"z":3.38,"v":0.1},{"x":1.5,"z":3.38,"v":0.12},{"x":1.7,"z":3.38,"v":0.14},{"x":1.9,"z":3.38,"v":0.15},{"x":2.1,"z":3.38,"v":0.17},{"x":2.3,"z":3.38,"v":0.17},{"x":2.5,"z":3.38,"v":0.17},{"x":2.7,"z":3.38,"v":0.17},{"x":2.9,"z":3.38,"v":0.17}
],"u":[
{"x":-0.48,"z":2.68,"v":0.02},{"x":-0.38,"z":2.68,"v":0.03},{"x":-0.28,"z":2.68,"v":0.05},{"x":-0.18,"z":2.68,"v":0.15},{"x":-0.08,"z":2.68,"v":0.2},{"x":0.02,"z":2.68,"v":0.3},{"x":0.12,"z":2.68,"v":0.35},{"x":0.22,"z":2.68,"v":0.35},{"x":0.32,"z":2.68,"v":0.3},{"x":0.42,"z":2.68,"v":0.25},{"x":0.52,"z":2.68,"v":0.1},
{"x":-0.48,"z":2.78,"v":0.8},{"x":-0.38,"z":2.78,"v":1.0},{"x":-0.28,"z":2.78,"v":1.35},{"x":-0.18,"z":2.78,"v":1.65},{"x":-0.08,"z":2.78,"v":1.8},{"x":0.02,"z":2.78,"v":1.8},{"x":0.12,"z":2.78,"v":1.75},{"x":0.22,"z":2.78,"v":1.65},{"x":0.32,"z":2.78,"v":1.55},{"x":0.42,"z":2.78,"v":1.1},{"x":0.52,"z":2.78,"v":0.9},
{"x":-0.48,"z":2.88,"v":0.85},{"x":-0.38,"z":2.88,"v":0.95},{"x":-0.28,"z":2.88,"v":1.2},{"x":-0.18,"z":2.88,"v":1.55},{"x":-0.08,"z":2.88,"v":1.6},{"x":0.02,"z":2.88,"v":1.6},{"x":0.12,"z":2.88,"v":1.65},{"x":0.22,"z":2.88,"v":1.55},{"x":0.32,"z":2.88,"v":1.3},{"x":0.42,"z":2.88,"v":1.05},{"x":0.52,"z":2.88,"v":0.85},
{"x":-0.48,"z":2.98,"v":0.75},{"x":-0.38,"z":2.98,"v":0.9},{"x":-0.28,"z":2.98,"v":1.1},{"x":-0.18,"z":2.98,"v":1.3},{"x":-0.08,"z":2.98,"v":1.4},{"x":0.02,"z":2.98,"v":1.35},{"x":0.12,"z":2.98,"v":1.4},{"x":0.22,"z":2.98,"v":1.35},{"x":0.32,"z":2.98,"v":1.22},{"x":0.42,"z":2.98,"v":1.0},{"x":0.52,"z":2.98,"v":0.8},
{"x":-0.48,"z":3.08,"v":0.7},{"x":-0.38,"z":3.08,"v":0.85},{"x":-0.28,"z":3.08,"v":1.0},{"x":-0.18,"z":3.08,"v":1.22},{"x":-0.08,"z":3.08,"v":1.35},{"x":0.02,"z":3.08,"v":1.4},{"x":0.12,"z":3.08,"v":1.4},{"x":0.22,"z":3.08,"v":1.3},{"x":0.32,"z":3.08,"v":1.2},{"x":0.42,"z":3.08,"v":0.95},{"x":0.52,"z":3.08,"v":0.7}
],"s":[
{"y":2.9,"z":3.39,"v":0.17},{"y":2.9,"z":3.29,"v":0.17},{"y":2.9,"z":3.19,"v":0.17},{"y":2.9,"z":3.09,"v":0.17},{"y":2.9,"z":2.99,"v":0.14},{"y":2.9,"z":2.89,"v":0.05},{"y":2.9,"z":2.79,"v":0.15},{"y":2.9,"z":2.69,"v":0.24},{"y":2.9,"z":2.59,"v":0.33},{"y":2.9,"z":2.49,"v":0.45},{"y":2.9,"z":2.39,"v":0.3},
{"y":2.7,"z":3.39,"v":0.17},{"y":2.7,"z":3.29,"v":0.17},{"y":2.7,"z":3.19,"v":0.17},{"y":2.7,"z":3.09,"v":0.17},{"y":2.7,"z":2.99,"v":0.1},{"y":2.7,"z":2.89,"v":0.05},{"y":2.7,"z":2.79,"v":0.17},{"y":2.7,"z":2.69,"v":0.26},{"y":2.7,"z":2.59,"v":0.33},{"y":2.7,"z":2.49,"v":0.45},{"y":2.7,"z":2.39,"v":0.2},
{"y":2.5,"z":3.39,"v":0.17},{"y":2.5,"z":3.29,"v":0.17},{"y":2.5,"z":3.19,"v":0.17},{"y":2.5,"z":3.09,"v":0.15},{"y":2.5,"z":2.99,"v":0.07},{"y":2.5,"z":2.89,"v":0.09},{"y":2.5,"z":2.79,"v":0.2},{"y":2.5,"z":2.69,"v":0.28},{"y":2.5,"z":2.59,"v":0.36},{"y":2.5,"z":2.49,"v":0.43},{"y":2.5,"z":2.39,"v":0.08},
{"y":2.3,"z":3.39,"v":0.16},{"y":2.3,"z":3.29,"v":0.16},{"y":2.3,"z":3.19,"v":0.16},{"y":2.3,"z":3.09,"v":0.12},{"y":2.3,"z":2.99,"v":0.05},{"y":2.3,"z":2.89,"v":0.13},{"y":2.3,"z":2.79,"v":0.22},{"y":2.3,"z":2.69,"v":0.3},{"y":2.3,"z":2.59,"v":0.38},{"y":2.3,"z":2.49,"v":0.4},
{"y":2.1,"z":3.39,"v":0.15},{"y":2.1,"z":3.29,"v":0.15},{"y":2.1,"z":3.19,"v":0.14},{"y":2.1,"z":3.09,"v":0.06},{"y":2.1,"z":2.99,"v":0.08},{"y":2.1,"z":2.89,"v":0.17},{"y":2.1,"z":2.79,"v":0.26},{"y":2.1,"z":2.69,"v":0.34},{"y":2.1,"z":2.59,"v":0.42},{"y":2.1,"z":2.49,"v":0.3},
{"y":1.9,"z":3.39,"v":0.14},{"y":1.9,"z":3.29,"v":0.14},{"y":1.9,"z":3.19,"v":0.12},{"y":1.9,"z":3.09,"v":0.05},{"y":1.9,"z":2.99,"v":0.12},{"y":1.9,"z":2.89,"v":0.2},{"y":1.9,"z":2.79,"v":0.3},{"y":1.9,"z":2.69,"v":0.38},{"y":1.9,"z":2.59,"v":0.45},{"y":1.9,"z":2.49,"v":0.15},
{"y":1.7,"z":3.39,"v":0.13},{"y":1.7,"z":3.29,"v":0.13},{"y":1.7,"z":3.19,"v":0.07},{"y":1.7,"z":3.09,"v":0.07},{"y":1.7,"z":2.99,"v":0.16},{"y":1.7,"z":2.89,"v":0.26},{"y":1.7,"z":2.79,"v":0.35},{"y":1.7,"z":2.69,"v":0.43},{"y":1.7,"z":2.59,"v":0.45},{"y":1.7,"z":2.49,"v":0.03},
{"y":1.5,"z":3.39,"v":0.12},{"y":1.5,"z":3.29,"v":0.12},{"y":1.5,"z":3.19,"v":0.06},{"y":1.5,"z":3.09,"v":0.1},{"y":1.5,"z":2.99,"v":0.22},{"y":1.5,"z":2.89,"v":0.32},{"y":1.5,"z":2.79,"v":0.42},{"y":1.5,"z":2.69,"v":0.5},{"y":1.5,"z":2.59,"v":0.4},
{"y":1.3,"z":3.39,"v":0.11},{"y":1.3,"z":3.29,"v":0.1},{"y":1.3,"z":3.19,"v":0.06},{"y":1.3,"z":3.09,"v":0.17},{"y":1.3,"z":2.99,"v":0.3},{"y":1.3,"z":2.89,"v":0.4},{"y":1.3,"z":2.79,"v":0.5},{"y":1.3,"z":2.69,"v":0.56},{"y":1.3,"z":2.59,"v":0.2},
{"y":1.1,"z":3.39,"v":0.1},{"y":1.1,"z":3.29,"v":0.07},{"y":1.1,"z":3.19,"v":0.1},{"y":1.1,"z":3.09,"v":0.27},{"y":1.1,"z":2.99,"v":0.4},{"y":1.1,"z":2.89,"v":0.5},{"y":1.1,"z":2.79,"v":0.6},{"y":1.1,"z":2.69,"v":0.6},{"y":1.1,"z":2.59,"v":0.08},
{"y":0.9,"z":3.39,"v":0.08},{"y":0.9,"z":3.29,"v":0.07},{"y":0.9,"z":3.19,"v":0.2},{"y":0.9,"z":3.09,"v":0.38},{"y":0.9,"z":2.99,"v":0.52},{"y":0.9,"z":2.89,"v":0.62},{"y":0.9,"z":2.79,"v":0.7},{"y":0.9,"z":2.69,"v":0.55},{"y":0.9,"z":2.59,"v":0.02},
{"y":0.7,"z":3.39,"v":0.06},{"y":0.7,"z":3.29,"v":0.07},{"y":0.7,"z":3.19,"v":0.3},{"y":0.7,"z":3.09,"v":0.5},{"y":0.7,"z":2.99,"v":0.75},{"y":0.7,"z":2.89,"v":0.8},{"y":0.7,"z":2.79,"v":0.8},{"y":0.7,"z":2.69,"v":0.55},
{"y":0.5,"z":3.39,"v":0.05},{"y":0.5,"z":3.29,"v":0.1},{"y":0.5,"z":3.19,"v":0.35},{"y":0.5,"z":3.09,"v":0.7},{"y":0.5,"z":2.99,"v":1.0},{"y":0.5,"z":2.89,"v":1.0},{"y":0.5,"z":2.79,"v":1.0},{"y":0.5,"z":2.69,"v":0.9},
{"y":0.3,"z":3.39,"v":0.05},{"y":0.3,"z":3.29,"v":0.12},{"y":0.3,"z":3.19,"v":0.4},{"y":0.3,"z":3.09,"v":0.8},{"y":0.3,"z":2.99,"v":1.2},{"y":0.3,"z":2.89,"v":1.3},{"y":0.3,"z":2.79,"v":1.4},{"y":0.3,"z":2.69,"v":0.5},
{"y":0.1,"z":3.39,"v":0.03},{"y":0.1,"z":3.29,"v":0.15},{"y":0.1,"z":3.19,"v":0.42},{"y":0.1,"z":3.09,"v":0.85},{"y":0.1,"z":2.99,"v":1.25},{"y":0.1,"z":2.89,"v":1.35},{"y":0.1,"z":2.79,"v":1.6},{"y":0.1,"z":2.69,"v":0.5},
{"y":-0.1,"z":3.39,"v":0.03},{"y":-0.1,"z":3.29,"v":0.2},{"y":-0.1,"z":3.19,"v":0.45},{"y":-0.1,"z":3.09,"v":0.85},{"y":-0.1,"z":2.99,"v":1.2},{"y":-0.1,"z":2.89,"v":1.3},{"y":-0.1,"z":2.79,"v":1.4},{"y":-0.1,"z":2.69,"v":0.1},
{"y":-0.3,"z":3.39,"v":0.03},{"y":-0.3,"z":3.29,"v":0.25},{"y":-0.3,"z":3.19,"v":0.48},{"y":-0.3,"z":3.09,"v":0.72},{"y":-0.3,"z":2.99,"v":0.95},{"y":-0.3,"z":2.89,"v":0.95},{"y":-0.3,"z":2.79,"v":0.9},
{"y":-0.5,"z":3.39,"v":0.03},{"y":-0.5,"z":3.29,"v":0.28},{"y":-0.5,"z":3.19,"v":0.5},{"y":-0.5,"z":3.09,"v":0.62},{"y":-0.5,"z":2.99,"v":0.68},{"y":-0.5,"z":2.89,"v":0.68},{"y":-0.5,"z":2.79,"v":0.4},
{"y":-0.7,"z":3.39,"v":0.03},{"y":-0.7,"z":3.29,"v":0.3},{"y":-0.7,"z":3.19,"v":0.5},{"y":-0.7,"z":3.09,"v":0.58},{"y":-0.7,"z":2.99,"v":0.63},{"y":-0.7,"z":2.89,"v":0.65},{"y":-0.7,"z":2.79,"v":0.15},
{"y":-0.9,"z":3.39,"v":0.03},{"y":-0.9,"z":3.29,"v":0.32},{"y":-0.9,"z":3.19,"v":0.5},{"y":-0.9,"z":3.09,"v":0.55},{"y":-0.9,"z":2.99,"v":0.6},{"y":-0.9,"z":2.89,"v":0.6},{"y":-0.9,"z":2.79,"v":0.08},
{"y":-1.1,"z":3.39,"v":0.03},{"y":-1.1,"z":3.29,"v":0.35},{"y":-1.1,"z":3.19,"v":0.5},{"y":-1.1,"z":3.09,"v":0.55},{"y":-1.1,"z":2.99,"v":0.6},{"y":-1.1,"z":2.89,"v":0.55},{"y":-1.1,"z":2.79,"v":0.05},
{"y":-1.3,"z":3.39,"v":0.03},{"y":-1.3,"z":3.29,"v":0.37},{"y":-1.3,"z":3.19,"v":0.5},{"y":-1.3,"z":3.09,"v":0.55},{"y":-1.3,"z":2.99,"v":0.58},{"y":-1.3,"z":2.89,"v":0.45},{"y":-1.3,"z":2.79,"v":0.02},
{"y":-1.5,"z":3.39,"v":0.03},{"y":-1.5,"z":3.29,"v":0.4},{"y":-1.5,"z":3.19,"v":0.5},{"y":-1.5,"z":3.09,"v":0.52},{"y":-1.5,"z":2.99,"v":0.55},{"y":-1.5,"z":2.89,"v":0.4},
{"y":-1.7,"z":3.39,"v":0.03},{"y":-1.7,"z":3.29,"v":0.42},{"y":-1.7,"z":3.19,"v":0.5},{"y":-1.7,"z":3.09,"v":0.52},{"y":-1.7,"z":2.99,"v":0.55},{"y":-1.7,"z":2.89,"v":0.28},
{"y":-1.9,"z":3.39,"v":0.03},{"y":-1.9,"z":3.29,"v":0.42},{"y":-1.9,"z":3.19,"v":0.48},{"y":-1.9,"z":3.09,"v":0.5},{"y":-1.9,"z":2.99,"v":0.5},{"y":-1.9,"z":2.89,"v":0.2}
],"r":[
{"y":0.51,"z":3.09,"v":0.7},{"y":0.51,"z":2.99,"v":0.85},{"y":0.51,"z":2.89,"v":0.85},{"y":0.51,"z":2.79,"v":0.85},{"y":0.51,"z":2.69,"v":0.7},
{"y":0.41,"z":3.09,"v":0.8},{"y":0.41,"z":2.99,"v":1.1},{"y":0.41,"z":2.89,"v":1.1},{"y":0.41,"z":2.79,"v":1.15},{"y":0.41,"z":2.69,"v":0.9},
{"y":0.31,"z":3.09,"v":0.95},{"y":0.31,"z":2.99,"v":1.3},{"y":0.31,"z":2.89,"v":1.25},{"y":0.31,"z":2.79,"v":1.4},{"y":0.31,"z":2.69,"v":0.9},
{"y":0.21,"z":3.09,"v":0.95},{"y":0.21,"z":2.99,"v":1.35},{"y":0.21,"z":2.89,"v":1.3},{"y":0.21,"z":2.79,"v":1.6},{"y":0.21,"z":2.69,"v":0.7},
{"y":0.11,"z":3.09,"v":1.0},{"y":0.11,"z":2.99,"v":1.4},{"y":0.11,"z":2.89,"v":1.35},{"y":0.11,"z":2.79,"v":1.8},{"y":0.11,"z":2.69,"v":0.55},
{"y":0.01,"z":3.09,"v":1.0},{"y":0.01,"z":2.99,"v":1.4},{"y":0.01,"z":2.89,"v":1.4},{"y":0.01,"z":2.79,"v":1.8},{"y":0.01,"z":2.69,"v":0.4},
{"y":-0.09,"z":3.09,"v":0.95},{"y":-0.09,"z":2.99,"v":1.3},{"y":-0.09,"z":2.89,"v":1.35},{"y":-0.09,"z":2.79,"v":1.75},{"y":-0.09,"z":2.69,"v":0.25},
{"y":-0.19,"z":3.09,"v":0.9},{"y":-0.19,"z":2.99,"v":1.15},{"y":-0.19,"z":2.89,"v":1.3},{"y":-0.19,"z":2.79,"v":1.6},{"y":-0.19,"z":2.69,"v":0.1},
{"y":-0.29,"z":3.09,"v":0.8},{"y":-0.29,"z":2.99,"v":1.0},{"y":-0.29,"z":2.89,"v":1.15},{"y":-0.29,"z":2.79,"v":1.2},
{"y":-0.39,"z":3.09,"v":0.7},{"y":-0.39,"z":2.99,"v":0.7},{"y":-0.39,"z":2.89,"v":0.7},{"y":-0.39,"z":2.79,"v":0.6}
],"c":[{"v":0.0125},{"v":0.0375},{"v":0.0625},{"v":0.0875},{"v":0.1125},{"v":0.1375},{"v":0.1625},{"v":0.1875},{"v":0.2125},{"v":0.2375},{"v":0.2625},{"v":0.2875},{"v":0.3125},{"v":0.3375},{"v":0.3625},{"v":0.3875},{"v":0.4125},{"v":0.4375},{"v":0.4625},{"v":0.4875},{"v":0.5125},{"v":0.5375},{"v":0.5625},{"v":0.5875},{"v":0.6125},{"v":0.6375},{"v":0.6625},{"v":0.6875},{"v":0.7125},{"v":0.7375},{"v":0.7625},{"v":0.7875},{"v":0.8125},{"v":0.8375},{"v":0.8625},{"v":0.8875},{"v":0.9125},{"v":0.9375},{"v":0.9625},{"v":0.9875},{"v":1.0125},{"v":1.0375},{"v":1.0625},{"v":1.0875},{"v":1.1125},{"v":1.1375},{"v":1.1625},{"v":1.1875},{"v":1.2125},{"v":1.2375},{"v":1.2625},{"v":1.2875},{"v":1.3125},{"v":1.3375},{"v":1.3625},{"v":1.3875},{"v":1.4125},{"v":1.4375},{"v":1.4625},{"v":1.4875},{"v":1.5125},{"v":1.5375},{"v":1.5625},{"v":1.5875},{"v":1.6125},{"v":1.6375},{"v":1.6625},{"v":1.6875},{"v":1.7125},{"v":1.7375},{"v":1.7625},{"v":1.7875},{"v":1.8125},{"v":1.8375}]},"spacing":27,"hconcat":[{"spacing":0,"bounds":"flush","vconcat":[{"width":321,"height":81,"layer":[{"data":{"name":"t"},"mark":{"type":"rect","binSpacing":0,"clip":true,"strokeWidth":0.5},"encoding":{"x":{"field":"x","type":"quantitative","bin":{"step":0.2,"extent":[-2,3],"nice":false},"scale":{"domain":[-2,3],"nice":false},"axis":null},"y":{"field":"z","type":"quantitative","bin":{"step":0.1,"extent":[2.53,3.43],"nice":false},"scale":{"domain":[3.36,2.08],"nice":false,"zero":false},"axis":{"values":[2.5,3],"format":".1f","title":"Z (km)","titleX":-29}},"color":{"field":"v","type":"quantitative","legend":null,"scale":{"domain":[0,0.2035,0.231,0.629,0.694,1.184,1.221,1.647,1.684,1.85],"range":["#000080","#0000ff","#0000ff","#00dbff","#14ffe2","#eeff08","#ffec00","#ff1300","#ff0000","#800000"],"interpolate":"rgb","clamp":true}},"stroke":{"field":"v","type":"quantitative","legend":null,"scale":{"domain":[0,0.2035,0.231,0.629,0.694,1.184,1.221,1.647,1.684,1.85],"range":["#000080","#0000ff","#0000ff","#00dbff","#14ffe2","#eeff08","#ffec00","#ff1300","#ff0000","#800000"],"interpolate":"rgb","clamp":true}}}},{"data":{"name":"u"},"mark":{"type":"rect","binSpacing":0,"clip":true,"strokeWidth":0.5},"encoding":{"x":{"field":"x","type":"quantitative","bin":{"step":0.1,"extent":[-0.53,0.97],"nice":false},"axis":null},"y":{"field":"z","type":"quantitative","bin":{"step":0.1,"extent":[2.53,3.43],"nice":false}},"color":{"field":"v","type":"quantitative","legend":null},"stroke":{"field":"v","type":"quantitative","legend":null}}},{"data":{"values":[{"p":2.875}]},"mark":{"type":"rule","color":"#fff","strokeDash":[5,4],"strokeWidth":1},"encoding":{"y":{"field":"p","type":"quantitative"}}},{"data":{"values":[{"x":-1.49,"z":3.17,"t":"Y = 0.0 km"}]},"mark":{"type":"text","color":"#fff","font":"DejaVu Sans","fontSize":8,"align":"left","baseline":"middle"},"encoding":{"x":{"field":"x","type":"quantitative"},"y":{"field":"z","type":"quantitative"},"text":{"field":"t"}}}]},{"spacing":0,"bounds":"flush","hconcat":[{"width":321,"height":321,"resolve":{"axis":{"x":"independent","y":"independent"}},"layer":[{"data":{"name":"m"},"mark":{"type":"rect","binSpacing":0,"clip":true,"strokeWidth":0.5},"encoding":{"x":{"field":"x","type":"quantitative","bin":{"step":0.2,"extent":[-2,3],"nice":false},"scale":{"domain":[-2,3],"nice":false},"axis":{"values":[-2,-1,0,1,2,3],"format":"d","labelAngle":-90,"title":"X (km)","titleY":29}},"y":{"field":"y","type":"quantitative","bin":{"step":0.2,"extent":[-2,3],"nice":false},"scale":{"domain":[-2,3],"nice":false},"axis":{"values":[-2,-1,0,1,2,3],"format":"d","title":"Y (km)","titleX":-29}},"color":{"field":"v","type":"quantitative","legend":null,"scale":{"domain":[0,0.2035,0.231,0.629,0.694,1.184,1.221,1.647,1.684,1.85],"range":["#000080","#0000ff","#0000ff","#00dbff","#14ffe2","#eeff08","#ffec00","#ff1300","#ff0000","#800000"],"interpolate":"rgb","clamp":true}},"stroke":{"field":"v","type":"quantitative","legend":null,"scale":{"domain":[0,0.2035,0.231,0.629,0.694,1.184,1.221,1.647,1.684,1.85],"range":["#000080","#0000ff","#0000ff","#00dbff","#14ffe2","#eeff08","#ffec00","#ff1300","#ff0000","#800000"],"interpolate":"rgb","clamp":true}}}},{"data":{"name":"f"},"mark":{"type":"rect","binSpacing":0,"clip":true,"strokeWidth":0.5},"encoding":{"x":{"field":"x","type":"quantitative","bin":{"step":0.1,"extent":[-0.53,0.97],"nice":false},"axis":null},"y":{"field":"y","type":"quantitative","bin":{"step":0.1,"extent":[-0.44,0.66],"nice":false},"axis":null},"color":{"field":"v","type":"quantitative","legend":null},"stroke":{"field":"v","type":"quantitative","legend":null}}},{"data":{"values":[{"p":-0.1}]},"mark":{"type":"rule","color":"#fff","strokeDash":[5,4],"strokeWidth":1},"encoding":{"x":{"field":"p","type":"quantitative","axis":{"orient":"top","values":[-2,-1,0,1,2,3],"labels":false,"domain":false,"title":null,"tickSize":-3}}}},{"data":{"values":[{"p":-0.1}]},"mark":{"type":"rule","color":"#fff","strokeDash":[5,4],"strokeWidth":1},"encoding":{"y":{"field":"p","type":"quantitative","axis":{"orient":"right","values":[-2,-1,0,1,2,3],"labels":false,"domain":false,"title":null,"tickSize":-3}}}},{"data":{"values":[{"x":-1.49,"y":-1.42,"t":"Z = 2.9 km"}]},"mark":{"type":"text","color":"#fff","font":"DejaVu Sans","fontSize":8,"align":"left","baseline":"middle"},"encoding":{"x":{"field":"x","type":"quantitative","axis":null},"y":{"field":"y","type":"quantitative","axis":null},"text":{"field":"t"}}}]},{"width":82,"height":321,"layer":[{"data":{"name":"s"},"mark":{"type":"rect","binSpacing":0,"clip":true,"strokeWidth":0.5},"encoding":{"x":{"field":"z","type":"quantitative","bin":{"step":0.1,"extent":[2.34,3.44],"nice":false},"scale":{"domain":[3.36,2.08],"nice":false,"zero":false},"axis":{"values":[3,2.5],"format":".1f","labelAngle":-90,"title":"Z (km)","titleY":29}},"y":{"field":"y","type":"quantitative","bin":{"step":0.2,"extent":[-2,3],"nice":false},"scale":{"domain":[-2,3],"nice":false},"axis":null},"color":{"field":"v","type":"quantitative","legend":null,"scale":{"domain":[0,0.2035,0.231,0.629,0.694,1.184,1.221,1.647,1.684,1.85],"range":["#000080","#0000ff","#0000ff","#00dbff","#14ffe2","#eeff08","#ffec00","#ff1300","#ff0000","#800000"],"interpolate":"rgb","clamp":true}},"stroke":{"field":"v","type":"quantitative","legend":null,"scale":{"domain":[0,0.2035,0.231,0.629,0.694,1.184,1.221,1.647,1.684,1.85],"range":["#000080","#0000ff","#0000ff","#00dbff","#14ffe2","#eeff08","#ffec00","#ff1300","#ff0000","#800000"],"interpolate":"rgb","clamp":true}}}},{"data":{"name":"r"},"mark":{"type":"rect","binSpacing":0,"clip":true,"strokeWidth":0.5},"encoding":{"x":{"field":"z","type":"quantitative","bin":{"step":0.1,"extent":[2.34,3.44],"nice":false}},"y":{"field":"y","type":"quantitative","bin":{"step":0.1,"extent":[-0.44,0.66],"nice":false}},"color":{"field":"v","type":"quantitative","legend":null},"stroke":{"field":"v","type":"quantitative","legend":null}}},{"data":{"values":[{"p":2.864}]},"mark":{"type":"rule","color":"#fff","strokeDash":[5,4],"strokeWidth":1},"encoding":{"x":{"field":"p","type":"quantitative"}}},{"data":{"values":[{"z":3.17,"y":-1.49,"t":"X = 0.0 km"}]},"mark":{"type":"text","color":"#fff","font":"DejaVu Sans","fontSize":8,"align":"left","baseline":"middle","angle":270},"encoding":{"x":{"field":"z","type":"quantitative"},"y":{"field":"y","type":"quantitative"},"text":{"field":"t"}}}]}]}]},{"spacing":0,"bounds":"flush","vconcat":[{"width":31,"height":6,"view":{"fill":null,"stroke":null},"data":{"values":[{"a":1}]},"mark":{"type":"rect","opacity":0},"encoding":{}},{"width":31,"height":417,"data":{"name":"c"},"mark":{"type":"rect","binSpacing":0,"strokeWidth":0.5},"encoding":{"y":{"field":"v","type":"quantitative","bin":{"step":0.025,"extent":[0,1.85],"nice":false},"scale":{"domain":[0,1.85],"nice":false},"axis":{"orient":"right","values":[0,0.25,0.5,0.75,1,1.25,1.5,1.75],"format":".2f","labelFontSize":12,"title":"True ΔPₒ (MPa)","titleFontSize":13,"titleAngle":-90,"titlePadding":16}},"color":{"field":"v","type":"quantitative","legend":null,"scale":{"domain":[0,0.2035,0.231,0.629,0.694,1.184,1.221,1.647,1.684,1.85],"range":["#000080","#0000ff","#0000ff","#00dbff","#14ffe2","#eeff08","#ffec00","#ff1300","#ff0000","#800000"],"interpolate":"rgb","clamp":true}},"stroke":{"field":"v","type":"quantitative","legend":null,"scale":{"domain":[0,0.2035,0.231,0.629,0.694,1.184,1.221,1.647,1.684,1.85],"range":["#000080","#0000ff","#0000ff","#00dbff","#14ffe2","#eeff08","#ffec00","#ff1300","#ff0000","#800000"],"interpolate":"rgb","clamp":true}}}}]}]}
